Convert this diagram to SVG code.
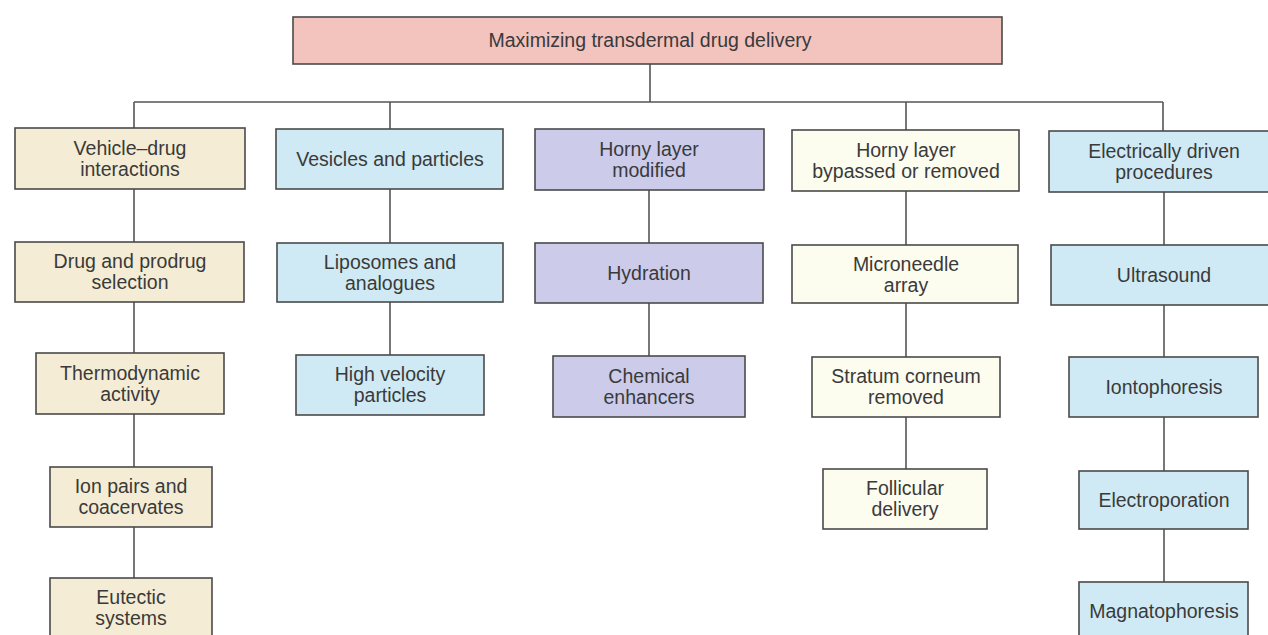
<svg xmlns="http://www.w3.org/2000/svg" width="1268" height="635" viewBox="0 0 1268 635">
<style>
.box{stroke:#4a4a4a;stroke-width:1.6}
.root{fill:#f3c3be}
.beige{fill:#f4ecd5}
.blue{fill:#cfeaf4}
.lav{fill:#cccbea}
.cream{fill:#fcfcef}
text{font-family:"Liberation Sans",Arial,sans-serif;font-size:19.5px;fill:#3a3a3a;text-anchor:middle}
.conn line{stroke:#555;stroke-width:1.6}
</style>
<rect width="1268" height="635" fill="#ffffff"/>
<g class="conn">
<line x1="650" y1="64" x2="650" y2="102"/>
<line x1="134" y1="102" x2="1163" y2="102"/>
<line x1="134" y1="102" x2="134" y2="128"/>
<line x1="390" y1="102" x2="390" y2="129"/>
<line x1="906" y1="102" x2="906" y2="130"/>
<line x1="1163" y1="102" x2="1163" y2="131"/>
<line x1="134" y1="189" x2="134" y2="242"/>
<line x1="134" y1="302" x2="134" y2="353"/>
<line x1="134" y1="414" x2="134" y2="467"/>
<line x1="134" y1="527" x2="134" y2="578"/>
<line x1="390" y1="189" x2="390" y2="243"/>
<line x1="390" y1="302" x2="390" y2="355"/>
<line x1="649" y1="190" x2="649" y2="243"/>
<line x1="649" y1="303" x2="649" y2="356"/>
<line x1="906" y1="191" x2="906" y2="245"/>
<line x1="906" y1="303" x2="906" y2="357"/>
<line x1="906" y1="417" x2="906" y2="469"/>
<line x1="1164" y1="192" x2="1164" y2="245"/>
<line x1="1164" y1="305" x2="1164" y2="357"/>
<line x1="1164" y1="417" x2="1164" y2="471"/>
<line x1="1164" y1="529" x2="1164" y2="582"/>
</g>
<g id="root"><rect class="box root" x="293" y="17" width="709" height="47"/><text x="650" y="47">Maximizing transdermal drug delivery</text></g>
<g id="vehicle"><rect class="box beige" x="15" y="128" width="230" height="61"/><text x="130" y="155">Vehicle–drug</text><text x="130" y="176">interactions</text></g>
<g id="drug"><rect class="box beige" x="15" y="242" width="229" height="60"/><text x="130" y="268">Drug and prodrug</text><text x="130" y="289">selection</text></g>
<g id="thermo"><rect class="box beige" x="36" y="353" width="188" height="61"/><text x="130" y="380">Thermodynamic</text><text x="130" y="401">activity</text></g>
<g id="ion"><rect class="box beige" x="50" y="467" width="162" height="60"/><text x="131" y="493">Ion pairs and</text><text x="131" y="514">coacervates</text></g>
<g id="eutectic"><rect class="box beige" x="50" y="578" width="162" height="70"/><text x="131" y="604">Eutectic</text><text x="131" y="625">systems</text></g>
<g id="vesicles"><rect class="box blue" x="276" y="129" width="227" height="60"/><text x="390" y="166">Vesicles and particles</text></g>
<g id="liposomes"><rect class="box blue" x="277" y="243" width="226" height="59"/><text x="390" y="269">Liposomes and</text><text x="390" y="290">analogues</text></g>
<g id="highvel"><rect class="box blue" x="296" y="355" width="188" height="60"/><text x="390" y="381">High velocity</text><text x="390" y="402">particles</text></g>
<g id="horny"><rect class="box lav" x="535" y="129" width="229" height="61"/><text x="649" y="156">Horny layer</text><text x="649" y="177">modified</text></g>
<g id="hydration"><rect class="box lav" x="535" y="243" width="228" height="60"/><text x="649" y="280">Hydration</text></g>
<g id="chemical"><rect class="box lav" x="553" y="356" width="192" height="61"/><text x="649" y="383">Chemical</text><text x="649" y="404">enhancers</text></g>
<g id="bypassed"><rect class="box cream" x="792" y="130" width="227" height="61"/><text x="906" y="157">Horny layer</text><text x="906" y="178">bypassed or removed</text></g>
<g id="microneedle"><rect class="box cream" x="792" y="245" width="226" height="58"/><text x="906" y="271">Microneedle</text><text x="906" y="292">array</text></g>
<g id="stratum"><rect class="box cream" x="812" y="357" width="188" height="60"/><text x="906" y="383">Stratum corneum</text><text x="906" y="404">removed</text></g>
<g id="follicular"><rect class="box cream" x="823" y="469" width="164" height="60"/><text x="905" y="495">Follicular</text><text x="905" y="516">delivery</text></g>
<g id="electrical"><rect class="box blue" x="1049" y="131" width="230" height="61"/><text x="1164" y="158">Electrically driven</text><text x="1164" y="179">procedures</text></g>
<g id="ultrasound"><rect class="box blue" x="1051" y="245" width="230" height="60"/><text x="1164" y="282">Ultrasound</text></g>
<g id="ionto"><rect class="box blue" x="1069" y="357" width="189" height="60"/><text x="1164" y="394">Iontophoresis</text></g>
<g id="electroporation"><rect class="box blue" x="1079" y="471" width="169" height="58"/><text x="1164" y="507">Electroporation</text></g>
<g id="magnato"><rect class="box blue" x="1079" y="582" width="169" height="70"/><text x="1164" y="618">Magnatophoresis</text></g>
</svg>
